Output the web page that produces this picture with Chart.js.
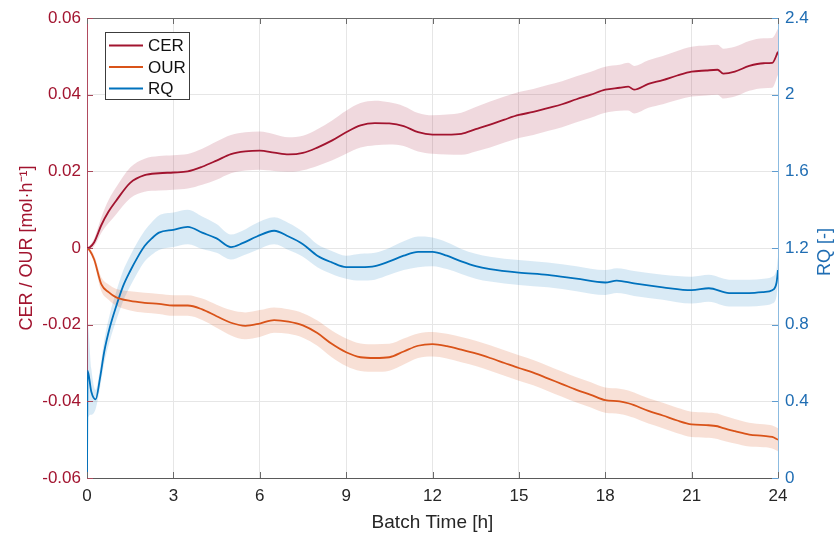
<!DOCTYPE html>
<html lang="en">
<head>
  <meta charset="UTF-8">
  <title>CER / OUR / RQ</title>
  <script src="https://cdn.jsdelivr.net/npm/chart.js"></script>
  <style>
    body { margin: 0; background: #fff; }
  </style>
</head>
<body>
  <canvas id="grafico" width="836" height="536"></canvas>
  <script>
    // Batch time [h] for CER / OUR
    const hours = [0, 0.1, 0.25, 0.5, 0.75, 1, 1.5, 2, 2.5, 3, 3.5, 4, 4.5, 5, 5.5, 6, 6.5, 7, 7.5, 8,
      8.5, 9, 9.5, 10, 10.5, 11, 11.5, 12, 12.5, 13, 13.5, 14, 14.5, 15, 15.5, 16, 16.5, 17, 17.5, 18,
      18.5, 18.8, 19, 19.5, 20, 20.5, 21, 21.5, 21.9, 22.1, 22.5, 23, 23.5, 23.8, 24];

    const cer = [0, 0.0002, 0.0015, 0.006, 0.0095, 0.0122, 0.017, 0.019, 0.0195, 0.0197, 0.0200, 0.0212, 0.0228, 0.0245, 0.0252, 0.0254, 0.0249, 0.0244, 0.0248, 0.0262,
      0.0280, 0.0302, 0.0320, 0.0326, 0.0325, 0.0318, 0.0302, 0.0296, 0.0296, 0.0298, 0.0310, 0.0322, 0.0335, 0.0347, 0.0355, 0.0365, 0.0375, 0.0388, 0.0400, 0.0413,
      0.0418, 0.0421, 0.0413, 0.0428, 0.0438, 0.0450, 0.0460, 0.0463, 0.0465, 0.0455, 0.0460, 0.0475, 0.0482, 0.0483, 0.0512];
    const cerSd = [0, 0.0005, 0.001, 0.002, 0.003, 0.0035, 0.004, 0.0043, 0.0045, 0.0045, 0.0045, 0.0047, 0.005, 0.005, 0.005, 0.005, 0.0048, 0.0045, 0.0045, 0.0048,
      0.0052, 0.0056, 0.0058, 0.0058, 0.0055, 0.0052, 0.005, 0.005, 0.0052, 0.0055, 0.0058, 0.006, 0.006, 0.006, 0.006, 0.006, 0.006, 0.006, 0.006, 0.006,
      0.006, 0.0062, 0.0062, 0.0062, 0.0063, 0.0064, 0.0065, 0.0065, 0.0065, 0.0065, 0.0065, 0.0065, 0.0065, 0.0065, 0.006];

    const our = [0, -0.0007, -0.003, -0.0095, -0.0115, -0.0128, -0.0138, -0.0143, -0.0146, -0.015, -0.015, -0.016, -0.0178, -0.0195, -0.0203, -0.0197, -0.0188, -0.0192, -0.0202, -0.0222,
      -0.025, -0.0272, -0.0285, -0.0287, -0.0285, -0.027, -0.0255, -0.0251, -0.0256, -0.0265, -0.0275, -0.0287, -0.03, -0.0313, -0.0325, -0.034, -0.0355, -0.037, -0.0383, -0.0397,
      -0.04, -0.0405, -0.041, -0.0425, -0.0437, -0.045, -0.046, -0.0462, -0.0465, -0.047, -0.0478, -0.0487, -0.049, -0.0493, -0.05];
    const ourSd = [0, 0.0005, 0.001, 0.0018, 0.002, 0.0022, 0.0025, 0.0026, 0.0026, 0.0027, 0.0027, 0.0028, 0.003, 0.0033, 0.0035, 0.0035, 0.0033, 0.0032, 0.0032, 0.0033,
      0.0035, 0.0036, 0.0036, 0.0036, 0.0035, 0.0034, 0.0032, 0.0032, 0.0032, 0.0033, 0.0033, 0.0033, 0.0033, 0.0033, 0.0033, 0.0033, 0.0033, 0.0033, 0.0033, 0.0033,
      0.0033, 0.0033, 0.0033, 0.0033, 0.0033, 0.0033, 0.0033, 0.0033, 0.0033, 0.0033, 0.0032, 0.0031, 0.003, 0.003, 0.003];

    // RQ has its own time base (sharp start at t = 0)
    const rqHours = [0, 0.02, 0.15, 0.3, 0.45, 0.6, 0.8, 1, 1.25, 1.5, 1.75, 2, 2.25, 2.5, 3, 3.5, 4, 4.5, 5, 5.4,
      5.9, 6.5, 7, 7.5, 8, 8.5, 9, 9.5, 10, 10.5, 11, 11.5, 12, 12.5, 13, 13.5, 14, 15, 16, 17,
      18, 18.4, 19, 20, 21, 21.6, 22.3, 23, 23.5, 23.8, 23.95, 24];
    const rq = [0, 0.56, 0.45, 0.41, 0.52, 0.66, 0.79, 0.89, 1.0, 1.08, 1.15, 1.21, 1.25, 1.28, 1.295, 1.31, 1.28, 1.25, 1.205, 1.225,
      1.26, 1.29, 1.26, 1.22, 1.16, 1.125, 1.10, 1.10, 1.105, 1.13, 1.16, 1.18, 1.18, 1.16, 1.13, 1.105, 1.09, 1.072, 1.06, 1.04,
      1.02, 1.03, 1.015, 0.995, 0.98, 0.99, 0.965, 0.965, 0.97, 0.98, 1.02, 1.085];
    const rqSd = [0, 0.25, 0.12, 0.05, 0.05, 0.06, 0.07, 0.075, 0.08, 0.08, 0.08, 0.08, 0.085, 0.09, 0.09, 0.09, 0.085, 0.075, 0.065, 0.065,
      0.07, 0.07, 0.07, 0.065, 0.06, 0.06, 0.06, 0.07, 0.07, 0.07, 0.075, 0.08, 0.075, 0.07, 0.065, 0.065, 0.065, 0.065, 0.065, 0.065,
      0.065, 0.065, 0.065, 0.065, 0.07, 0.07, 0.07, 0.07, 0.07, 0.07, 0.07, 0.07];

    const xTicks = [0, 3, 6, 9, 12, 15, 18, 21, 24];
    const leftTicks = [-0.06, -0.04, -0.02, 0, 0.02, 0.04, 0.06];
    const rightTicks = [0, 0.4, 0.8, 1.2, 1.6, 2, 2.4];
    const seriesNames = ['CER', 'OUR', 'RQ'];

    const colCER = '#A2142F', colOUR = '#D95319', colRQ = '#0072BD';
    const fuente = "'Liberation Sans', Arial, sans-serif";
    Chart.defaults.font.family = fuente;

    const pts = (xs, ys, sd, sign) => xs.map((x, i) => ({ x: x, y: ys[i] + sign * (sd ? sd[i] : 0) }));

    function linea(label, xs, ys, color, axis) {
      return { label, data: pts(xs, ys, null, 0), yAxisID: axis, borderColor: color, borderWidth: 1.8,
        pointRadius: 0, fill: false, cubicInterpolationMode: 'monotone', order: 0 };
    }
    function banda(xs, ys, sd, fillColor, axis) {
      return [
        { label: '', data: pts(xs, ys, sd, 1), yAxisID: axis, borderWidth: 0, borderColor: 'transparent',
          backgroundColor: fillColor, pointRadius: 0, fill: '+1', cubicInterpolationMode: 'monotone', order: 1 },
        { label: '', data: pts(xs, ys, sd, -1), yAxisID: axis, borderWidth: 0, borderColor: 'transparent',
          pointRadius: 0, fill: false, cubicInterpolationMode: 'monotone', order: 1 }
      ];
    }

    // marco estilo MATLAB: borde superior, marcas hacia dentro, leyenda y titulo derecho
    const marcoPlugin = {
      id: 'marco',
      afterDraw(chart) {
        const { ctx, chartArea: a, scales } = chart;
        ctx.save();
        ctx.lineWidth = 1;
        ctx.strokeStyle = '#6b6b6b';
        ctx.beginPath();
        ctx.moveTo(a.left, a.top + 0.5); ctx.lineTo(a.right, a.top + 0.5);
        xTicks.forEach(v => {
          const px = Math.round(scales.x.getPixelForValue(v)) + 0.5;
          ctx.moveTo(px, a.bottom); ctx.lineTo(px, a.bottom - 6);
          ctx.moveTo(px, a.top); ctx.lineTo(px, a.top + 6);
        });
        ctx.stroke();
        ctx.strokeStyle = '#a8485a';
        ctx.beginPath();
        leftTicks.forEach(v => {
          const py = Math.round(scales.y.getPixelForValue(v)) + 0.5;
          ctx.moveTo(a.left, py); ctx.lineTo(a.left + 6, py);
        });
        ctx.stroke();
        ctx.strokeStyle = '#5f9ccf';
        ctx.beginPath();
        rightTicks.forEach(v => {
          const py = Math.round(scales.y1.getPixelForValue(v)) + 0.5;
          ctx.moveTo(a.right, py); ctx.lineTo(a.right - 6, py);
        });
        ctx.stroke();

        // titulo eje derecho (leido de abajo hacia arriba)
        ctx.save();
        ctx.translate(825, (a.top + a.bottom) / 2 + 4);
        ctx.rotate(-Math.PI / 2);
        ctx.fillStyle = '#1f6db3';
        ctx.font = '18px ' + fuente;
        ctx.textAlign = 'center';
        ctx.textBaseline = 'middle';
        ctx.fillText('RQ [-]', 0, 0);
        ctx.restore();

        // leyenda
        const bx = 105.5, by = 32.5, bw = 84, bh = 67;
        ctx.fillStyle = '#ffffff';
        ctx.fillRect(bx, by, bw, bh);
        ctx.strokeStyle = '#3c3c3c';
        ctx.strokeRect(bx, by, bw, bh);
        const cols = [colCER, colOUR, colRQ];
        ctx.font = '17px ' + fuente;
        ctx.textAlign = 'left';
        ctx.textBaseline = 'middle';
        seriesNames.forEach((n, i) => {
          const yy = by + 13 + i * 21.5;
          ctx.strokeStyle = cols[i];
          ctx.lineWidth = 2;
          ctx.beginPath(); ctx.moveTo(109, yy); ctx.lineTo(143, yy); ctx.stroke();
          ctx.fillStyle = '#111';
          ctx.fillText(n, 148, yy + 1);
        });
        ctx.restore();
      }
    };

    const datasets = [
      linea('CER', hours, cer, colCER, 'y'),
      linea('OUR', hours, our, colOUR, 'y'),
      linea('RQ', rqHours, rq, colRQ, 'y1'),
      ...banda(hours, cer, cerSd, 'rgba(162, 20, 47, 0.16)', 'y'),
      ...banda(hours, our, ourSd, 'rgba(217, 83, 25, 0.18)', 'y'),
      ...banda(rqHours, rq, rqSd, 'rgba(0, 114, 189, 0.15)', 'y1')
    ];

    new Chart(document.getElementById('grafico'), {
      type: 'line',
      data: { datasets },
      options: {
        responsive: false,
        animation: false,
        layout: { padding: { top: 18, left: 0, right: 0, bottom: 0 } },
        plugins: { legend: { display: false }, tooltip: { enabled: false } },
        scales: {
          x: {
            type: 'linear', min: 0, max: 24,
            afterBuildTicks: s => { s.ticks = xTicks.map(v => ({ value: v })); },
            afterFit: s => { s.height = 58; },
            grid: { color: '#e6e6e6', drawTicks: false },
            border: { color: '#5a5a5a', width: 1 },
            ticks: { color: '#262626', font: { size: 17 }, padding: 8, maxRotation: 0 },
            title: { display: true, text: 'Batch Time [h]', color: '#262626', font: { size: 19 }, padding: { bottom: 2 } }
          },
          y: {
            position: 'left', min: -0.06, max: 0.06,
            afterBuildTicks: s => { s.ticks = leftTicks.map(v => ({ value: v })); },
            afterFit: s => { s.width = 87; },
            grid: { color: '#e6e6e6', drawTicks: false },
            border: { color: '#b04a5e', width: 1 },
            ticks: { color: colCER, font: { size: 17 }, padding: 6,
              callback: v => Math.abs(v) < 1e-9 ? '0' : v.toFixed(2) },
            title: { display: true, text: 'CER / OUR [mol·h⁻¹]', color: colCER, font: { size: 18 }, padding: { top: 16 } }
          },
          y1: {
            position: 'right', min: 0, max: 2.4,
            afterBuildTicks: s => { s.ticks = rightTicks.map(v => ({ value: v })); },
            afterFit: s => { s.width = 58; },
            grid: { drawOnChartArea: false, drawTicks: false },
            border: { color: '#8cbbe0', width: 1 },
            ticks: { color: '#1f6db3', font: { size: 17 }, padding: 7,
              callback: v => String(parseFloat(v.toFixed(1))) }
          }
        }
      },
      plugins: [marcoPlugin]
    });
  </script>
</body>
</html>
